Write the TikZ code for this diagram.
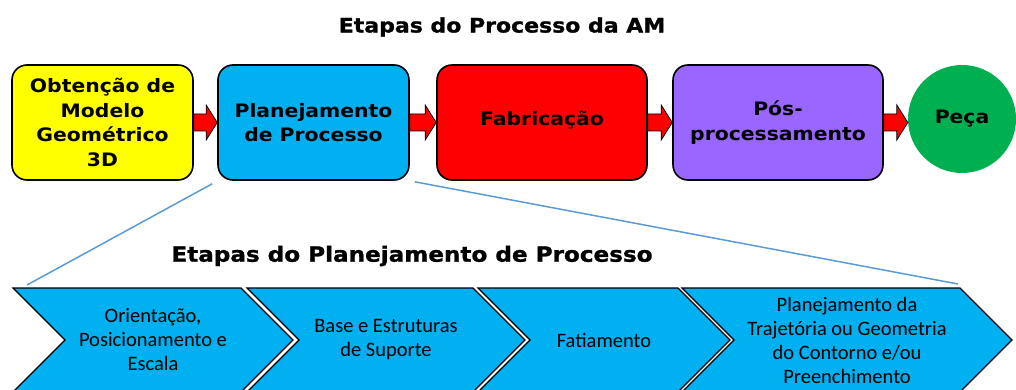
\documentclass[tikz,border=0pt]{standalone}
\usepackage{fontspec}
\usetikzlibrary{shapes.symbols,calc}
\newfontfamily\verdfont[FakeStretch=1.1]{DejaVu Sans Bold}
\newfontfamily\headfont[FakeStretch=1.1,FakeBold=1.2]{DejaVu Sans Bold}
\newfontfamily\calfont{Carlito}
\definecolor{yellowbox}{HTML}{FFFF00}
\definecolor{cyanbox}{HTML}{00B0F0}
\definecolor{redbox}{HTML}{FF0000}
\definecolor{purplebox}{HTML}{9966FF}
\definecolor{greenpeca}{HTML}{00B050}
\definecolor{zoomblue}{HTML}{5B9BD5}
\tikzset{
  stage/.style={draw=black,line width=1.6pt,rounded corners=15pt,minimum height=115pt,
    inner sep=0pt,align=center,font=\verdfont\fontsize{18.5}{24.5}\selectfont},
  chev/.style={signal,signal from=west,signal to=east,signal pointer angle=90,
    fill=cyanbox,draw=black,line width=1.2pt,minimum height=104pt,inner sep=0pt,
    align=center,font=\calfont\fontsize{20.5}{24}\selectfont},
  blockarr/.style={fill=redbox,draw=black,line width=0.8pt},
  zoomline/.style={draw=zoomblue,line width=1.5pt}
}
% block arrow from one stage to the next
\newcommand{\flowarrow}[2]{%
  \draw[blockarr] let \p1=(#1.east), \p2=(#2.west) in
    (\x1,\y1+8.5pt) -- (\x2-11pt,\y1+8.5pt) -- (\x2-11pt,\y1+17.5pt) -- (\x2,\y1)
    -- (\x2-11pt,\y1-17.5pt) -- (\x2-11pt,\y1-8.5pt) -- (\x1,\y1-8.5pt) -- cycle;}
\begin{document}
\begin{tikzpicture}[x=1pt,y=-1pt]
\useasboundingbox (0,0) rectangle (1016,390);

\node[font=\headfont\fontsize{20}{24}\selectfont] (title) at (502,27) {Etapas do Processo da AM};

\node[stage,fill=yellowbox,minimum width=181pt] (modelo) at (102.5,122.5) {Obtenção de\\Modelo\\Geométrico\\3D};
\node[stage,fill=cyanbox,minimum width=191pt] (plan) at (313.5,122.5) {Planejamento\\de Processo};
\node[stage,fill=redbox,minimum width=210pt] (fab) at (542,122.5) {\raisebox{9pt}{Fabricação}};
\node[stage,fill=purplebox,minimum width=210pt] (pos) at (778,122.5) {Pós-\\processamento};
\node[circle,fill=greenpeca,minimum size=108pt,inner sep=0pt,
  font=\verdfont\fontsize{18.5}{24.5}\selectfont] (peca) at (962,119) {Peça};

\flowarrow{modelo}{plan}
\flowarrow{plan}{fab}
\flowarrow{fab}{pos}
\flowarrow{pos}{peca}

\coordinate (zl) at (27,285);
\coordinate (zr) at (958,284);
\draw[zoomline] ([xshift=-5pt,yshift=-3pt]plan.south west) -- (zl);
\draw[zoomline] ([xshift=5pt,yshift=-1pt]plan.south east) -- (zr);

\node[font=\headfont\fontsize{21}{25}\selectfont] (subtitle) at (412,256) {Etapas do Planejamento de Processo};

\node[chev,minimum width=280pt] (orient) at (153,340) {Orientação,\\Posicionamento e\\Escala};
\node[chev,minimum width=278pt] (suporte) at (386,340) {Base e Estruturas\\de Suporte};
\node[chev,minimum width=252pt] (fatia) at (604,340) {Fatiamento};
\node[chev,minimum width=330pt] (traj) at (847,340) {Planejamento da\\Trajetória ou Geometria\\do Contorno e/ou\\Preenchimento};

\end{tikzpicture}
\end{document}
